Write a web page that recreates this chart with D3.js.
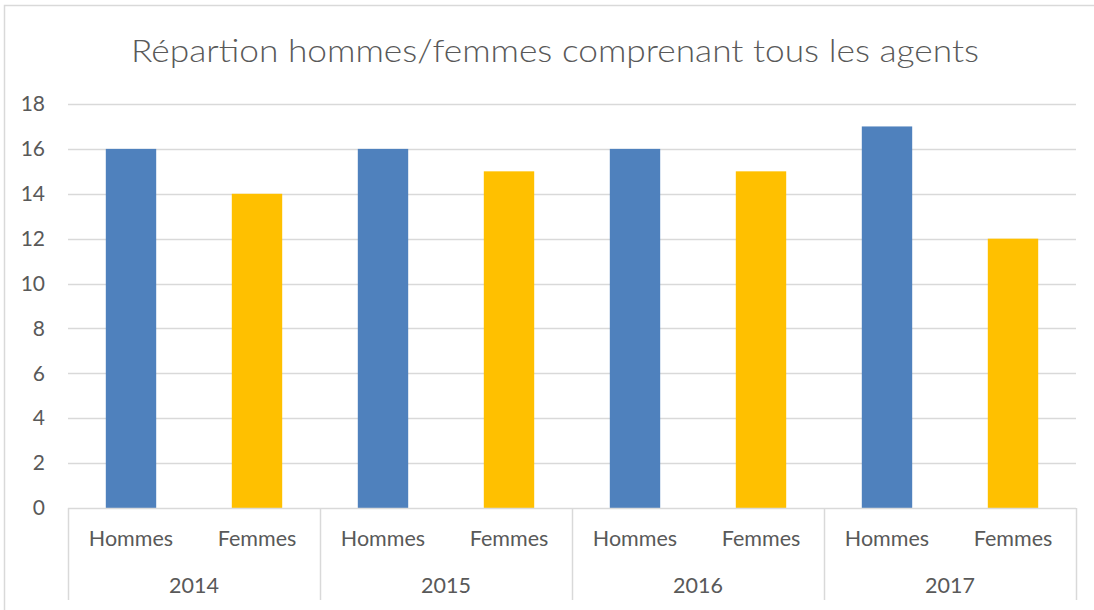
<!DOCTYPE html>
<html>
<head>
<meta charset="utf-8">
<script src="https://cdn.jsdelivr.net/npm/d3@7"></script>
<style>
  body { margin: 0; background: #fff; }
  text { font-family: Lato, "Open Sans", sans-serif; fill: #595959; }
</style>
</head>
<body>
<svg id="chart" width="1094" height="610"></svg>
<script>
const years = ["2014", "2015", "2016", "2017"];
const genders = ["Hommes", "Femmes"];
const hommes = [16, 16, 16, 17];
const femmes = [14, 15, 15, 12];
const yTicks = [0, 2, 4, 6, 8, 10, 12, 14, 16, 18];
const colors = { Hommes: "#4F81BD", Femmes: "#FFC000" };

const rows = [];
years.forEach((y, i) => {
    rows.push({ year: y, gender: "Hommes", value: hommes[i] });
    rows.push({ year: y, gender: "Femmes", value: femmes[i] });
});

const svg = d3.select("#chart");
const margin = { top: 104, right: 18, bottom: 102, left: 68 };
const width = 1094 - margin.left - margin.right;
const height = 610 - margin.top - margin.bottom;

// outer frame (runs off the right and bottom edges)
svg.append("rect")
    .attr("x", 4.5).attr("y", 5.5)
    .attr("width", 1100).attr("height", 620)
    .attr("fill", "none").attr("stroke", "#d9d9d9").attr("stroke-width", 1.5);

svg.append("text")
    .attr("x", 555).attr("y", 62)
    .attr("text-anchor", "middle")
    .style("font-size", "31px")
    .style("font-weight", 300)
    .attr("textLength", 848)
    .attr("lengthAdjust", "spacingAndGlyphs")
    .text("Répartion hommes/femmes comprenant tous les agents");

const g = svg.append("g").attr("transform", `translate(${margin.left},${margin.top})`);

const x0 = d3.scaleBand().domain(years).range([0, width]);
const x1 = d3.scaleBand().domain(genders).range([0, x0.bandwidth()])
    .paddingInner(0.6).paddingOuter(0.3);
const y = d3.scaleLinear().domain([0, 18]).range([height, 0]);

// grid
g.append("g")
    .selectAll("line")
    .data(yTicks.filter(d => d > 0))
    .enter().append("line")
    .attr("x1", 0).attr("x2", width)
    .attr("y1", d => Math.round(y(d)) + 0.5)
    .attr("y2", d => Math.round(y(d)) + 0.5)
    .attr("stroke", "#d9d9d9").attr("stroke-width", 1.5);

// y axis labels
const yAxis = g.append("g")
    .attr("transform", "translate(-23,0)")
    .call(d3.axisLeft(y).tickValues(yTicks).tickSize(0).tickPadding(0));
yAxis.select(".domain").remove();
yAxis.selectAll("text")
    .style("font-size", "21px")
    .style("font-family", "Lato, 'Open Sans', sans-serif")
    .attr("fill", "#595959");

// bars
g.append("g")
    .selectAll("rect")
    .data(rows)
    .enter().append("rect")
    .attr("x", d => x0(d.year) + x1(d.gender))
    .attr("y", d => y(d.value))
    .attr("width", x1.bandwidth())
    .attr("height", d => y(0) - y(d.value))
    .attr("fill", d => colors[d.gender]);

// category axis
const axisG = g.append("g").attr("transform", `translate(0,${height})`);
axisG.append("line")
    .attr("x1", 0).attr("x2", width)
    .attr("y1", 0.5).attr("y2", 0.5)
    .attr("stroke", "#d9d9d9").attr("stroke-width", 1.5);

const seps = years.map(d => x0(d)).concat([width]);
axisG.selectAll("line.sep")
    .data(seps)
    .enter().append("line")
    .attr("class", "sep")
    .attr("x1", d => d + 0.5).attr("x2", d => d + 0.5)
    .attr("y1", 0).attr("y2", 92)
    .attr("stroke", "#d9d9d9").attr("stroke-width", 1.5);

axisG.selectAll("text.gender")
    .data(rows)
    .enter().append("text")
    .attr("class", "gender")
    .attr("x", d => x0(d.year) + x1(d.gender) + x1.bandwidth() / 2)
    .attr("y", 38)
    .attr("text-anchor", "middle")
    .style("font-size", "21.5px")
    .text(d => d.gender);

axisG.selectAll("text.year")
    .data(years)
    .enter().append("text")
    .attr("class", "year")
    .attr("x", d => x0(d) + x0.bandwidth() / 2)
    .attr("y", 85)
    .attr("text-anchor", "middle")
    .style("font-size", "21.5px")
    .text(d => d);
</script>
</body>
</html>
